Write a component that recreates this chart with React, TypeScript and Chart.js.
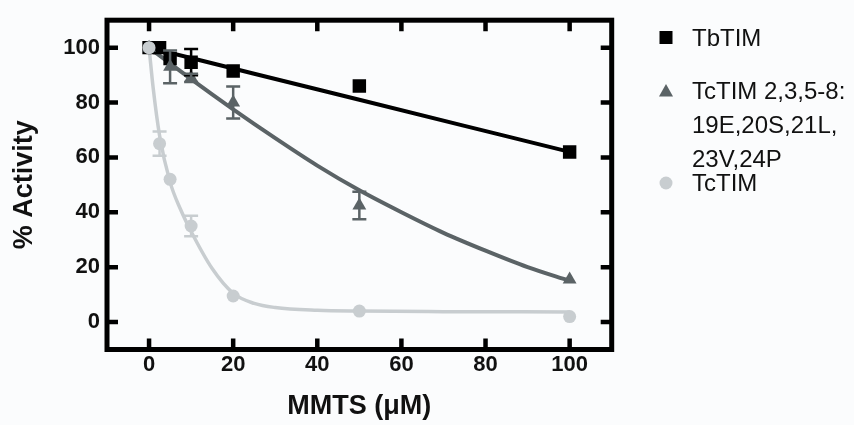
import React, { useEffect, useRef } from "react";
import { Chart, registerables } from "chart.js";

Chart.register(...registerables);

// ---------- data ----------
const xTickValues = [0, 20, 40, 60, 80, 100];
const yTickValues = [0, 20, 40, 60, 80, 100];

// TbTIM (black squares)
const tbX = [0, 2.5, 5, 10, 20, 50, 100];
const tbY = [100, 100, 96, 94.7, 91.5, 86, 62];
const tbErr = [0, 0, 0, 4.8, 0, 0, 0];
const tbFitX = [0, 25, 50, 75, 100];
const tbFitY = [100, 90.5, 81, 71.5, 62];

// TcTIM 2,3,5-8 mutant (dark grey triangles)
const mutX = [0, 5, 10, 20, 50, 100];
const mutY = [100, 93, 89, 80, 42.5, 15.5];
const mutErr = [0, 6, 1.5, 5.8, 5, 0];
const mutFitX = [0, 10, 20, 30, 40, 50, 60, 70, 80, 90, 100];
const mutFitY = [100, 88.5, 77.5, 67, 57, 48, 40, 32.5, 26, 20, 15];

// TcTIM (light grey circles)
const tcX = [0, 2.5, 5, 10, 20, 50, 100];
const tcY = [100, 65, 52, 35, 9.5, 4, 2];
const tcErr = [0, 4.4, 0, 3.7, 0, 0, 0];
const tcFitX = [0, 1, 2.5, 5, 7.5, 10, 15, 20, 25, 30, 40, 50, 70, 100];
const tcFitY = [100, 85, 68, 51, 41, 33, 19.5, 10.5, 6.8, 5.3, 4.3, 4, 3.8, 3.7];

const legendLabels: (string | string[])[] = [
  "TbTIM",
  ["TcTIM 2,3,5-8:", "19E,20S,21L,", "23V,24P"],
  "TcTIM",
];

const BLACK = "#000000";
const DARK = "#5b6366";
const LIGHT = "#c8cdd0";

const pts = (xs: number[], ys: number[]) => xs.map((x, i) => ({ x, y: ys[i] }));

const errorSeries = [
  { xs: tbX, ys: tbY, errs: tbErr, color: BLACK },
  { xs: mutX, ys: mutY, errs: mutErr, color: DARK },
  { xs: tcX, ys: tcY, errs: tcErr, color: LIGHT },
];

const errorBarPlugin = {
  id: "errorBars",
  afterDatasetsDraw(chart: any) {
    const { ctx, scales } = chart;
    ctx.save();
    ctx.lineWidth = 2.5;
    ctx.lineCap = "butt";
    for (const s of errorSeries) {
      ctx.strokeStyle = s.color;
      s.xs.forEach((xv, i) => {
        const e = s.errs[i];
        if (!e) return;
        const px = scales.x.getPixelForValue(xv);
        const pTop = scales.y.getPixelForValue(s.ys[i] + e);
        const pBot = scales.y.getPixelForValue(s.ys[i] - e);
        ctx.beginPath();
        ctx.moveTo(px, pTop);
        ctx.lineTo(px, pBot);
        ctx.moveTo(px - 7, pTop);
        ctx.lineTo(px + 7, pTop);
        ctx.moveTo(px - 7, pBot);
        ctx.lineTo(px + 7, pBot);
        ctx.stroke();
      });
    }
    ctx.restore();
  },
};

const framePlugin = {
  id: "frame",
  afterDraw(chart: any) {
    const { ctx, chartArea: a, scales } = chart;
    ctx.save();
    ctx.strokeStyle = "#000";
    ctx.lineWidth = 5;
    ctx.lineJoin = "miter";
    ctx.strokeRect(a.left, a.top, a.right - a.left, a.bottom - a.top);
    ctx.lineWidth = 4.5;
    ctx.lineCap = "butt";
    const L = 11;
    ctx.beginPath();
    for (const v of xTickValues) {
      const px = scales.x.getPixelForValue(v);
      ctx.moveTo(px, a.bottom);
      ctx.lineTo(px, a.bottom - L);
      ctx.moveTo(px, a.top);
      ctx.lineTo(px, a.top + L);
    }
    for (const v of yTickValues) {
      const py = scales.y.getPixelForValue(v);
      ctx.moveTo(a.left, py);
      ctx.lineTo(a.left + L, py);
      ctx.moveTo(a.right, py);
      ctx.lineTo(a.right - L, py);
    }
    ctx.stroke();
    ctx.restore();
  },
};

const legendPlugin = {
  id: "customLegend",
  afterDraw(chart: any) {
    const { ctx } = chart;
    ctx.save();
    const markerX = 666;
    const textX = 692;
    const baselines = [45.5, 99, 191];
    const lineGap = 34;
    const markerYs = [37.5, 91, 183];
    ctx.font = "24px 'Liberation Sans', Arial, sans-serif";
    ctx.fillStyle = "#111";
    ctx.textBaseline = "alphabetic";
    ctx.textAlign = "left";
    legendLabels.forEach((lab, i) => {
      const lines = Array.isArray(lab) ? lab : [lab];
      lines.forEach((t, j) => ctx.fillText(t, textX, baselines[i] + j * lineGap));
    });
    // markers
    const my = markerYs;
    ctx.fillStyle = BLACK;
    ctx.fillRect(markerX - 6.5, my[0] - 6.5, 13, 13);
    ctx.fillStyle = DARK;
    ctx.beginPath();
    ctx.moveTo(markerX, my[1] - 7);
    ctx.lineTo(markerX + 7, my[1] + 5.5);
    ctx.lineTo(markerX - 7, my[1] + 5.5);
    ctx.closePath();
    ctx.fill();
    ctx.fillStyle = LIGHT;
    ctx.beginPath();
    ctx.arc(markerX, my[2], 6.5, 0, Math.PI * 2);
    ctx.fill();
    ctx.restore();
  },
};

export default function App() {
  const ref = useRef<HTMLCanvasElement | null>(null);

  useEffect(() => {
    if (!ref.current) return;
    const tickFont = { family: "'Liberation Sans', Arial, sans-serif", size: 22, weight: "bold" as const };
    const titleFont = { family: "'Liberation Sans', Arial, sans-serif", size: 27, weight: "bold" as const };
    const chart = new Chart(ref.current, {
      type: "scatter",
      data: {
        datasets: [
          {
            label: "TcTIM",
            data: pts(tcX, tcY),
            pointStyle: "circle",
            pointRadius: 6.5,
            backgroundColor: LIGHT,
            borderWidth: 0,
            showLine: false,
          },
          {
            label: "TcTIM 2,3,5-8",
            data: pts(mutX, mutY),
            pointStyle: "triangle",
            pointRadius: 8,
            backgroundColor: DARK,
            borderWidth: 0,
            showLine: false,
          },
          {
            label: "TbTIM",
            data: pts(tbX, tbY),
            pointStyle: "rect",
            pointRadius: 9.5,
            backgroundColor: BLACK,
            borderWidth: 0,
            showLine: false,
          },
          {
            label: "TcTIM fit",
            data: pts(tcFitX, tcFitY),
            showLine: true,
            pointRadius: 0,
            borderColor: LIGHT,
            borderWidth: 3.5,
            cubicInterpolationMode: "monotone",
          },
          {
            label: "mutant fit",
            data: pts(mutFitX, mutFitY),
            showLine: true,
            pointRadius: 0,
            borderColor: DARK,
            borderWidth: 4,
            cubicInterpolationMode: "monotone",
          },
          {
            label: "TbTIM fit",
            data: pts(tbFitX, tbFitY),
            showLine: true,
            pointRadius: 0,
            borderColor: BLACK,
            borderWidth: 4,
            cubicInterpolationMode: "monotone",
          },
        ],
      },
      options: {
        animation: false,
        responsive: false,
        devicePixelRatio: 1,
        layout: { padding: { left: 0, top: 12.5, right: 854 - 611.7, bottom: 0 } },
        plugins: { legend: { display: false }, tooltip: { enabled: false } },
        events: [],
        scales: {
          x: {
            type: "linear",
            min: -10,
            max: 110,
            afterBuildTicks: (s: any) => {
              s.ticks = xTickValues.map((v) => ({ value: v }));
            },
            afterFit: (s: any) => {
              s.height = 425 - 349.5;
            },
            grid: { display: false, drawTicks: false },
            border: { display: false },
            ticks: { font: tickFont, color: "#111", padding: 2, maxRotation: 0 },
            title: {
              display: true,
              text: "MMTS (\u03bcM)",
              font: titleFont,
              color: "#111",
              padding: { top: 0, bottom: 2 },
            },
          },
          y: {
            type: "linear",
            min: -10,
            max: 110,
            afterBuildTicks: (s: any) => {
              s.ticks = yTickValues.map((v) => ({ value: v }));
            },
            afterFit: (s: any) => {
              s.width = 107;
            },
            grid: { display: false, drawTicks: false },
            border: { display: false },
            ticks: { font: tickFont, color: "#111", padding: 7 },
            title: {
              display: true,
              text: "% Activity",
              font: titleFont,
              color: "#111",
              padding: { top: 8, bottom: 0 },
            },
          },
        },
      },
      plugins: [errorBarPlugin, framePlugin, legendPlugin],
    } as any);
    return () => chart.destroy();
  }, []);

  return (
    <div style={{ width: 854, height: 425 }}>
      <style>{`body{margin:0;background:#fbfcfd;}`}</style>
      <canvas ref={ref} width={854} height={425} style={{ display: "block" }} />
    </div>
  );
}
